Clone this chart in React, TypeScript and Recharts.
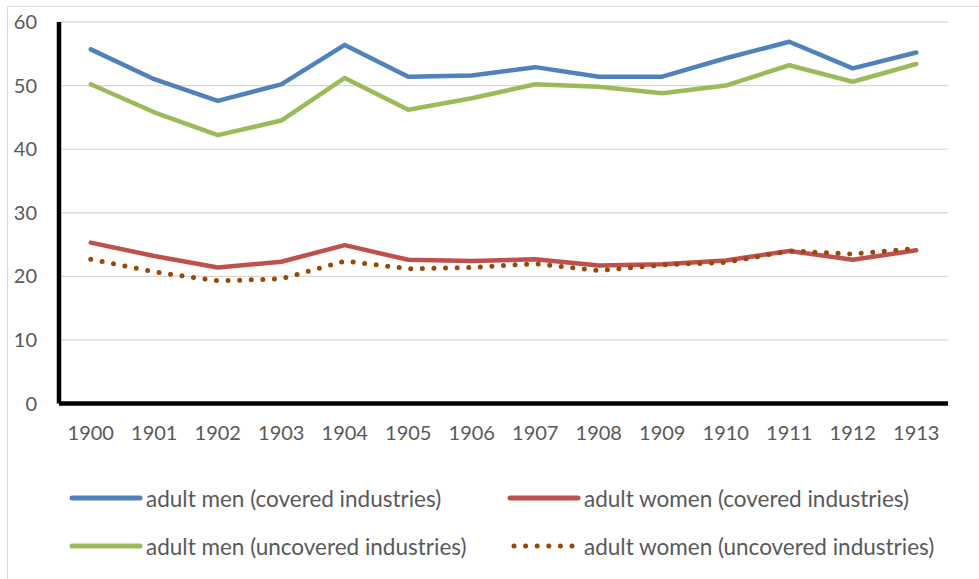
import { LineChart, Line, XAxis, YAxis, CartesianGrid, Legend } from 'recharts'

const years = ['1900', '1901', '1902', '1903', '1904', '1905', '1906', '1907', '1908', '1909', '1910', '1911', '1912', '1913']
const menCovered = [55.7, 51.0, 47.6, 50.2, 56.4, 51.4, 51.6, 52.9, 51.4, 51.4, 54.3, 56.9, 52.7, 55.2]
const womenCovered = [25.3, 23.2, 21.4, 22.3, 24.9, 22.6, 22.4, 22.7, 21.7, 21.9, 22.5, 24.0, 22.6, 24.1]
const menUncovered = [50.2, 45.8, 42.2, 44.5, 51.2, 46.2, 48.0, 50.2, 49.8, 48.8, 50.0, 53.2, 50.6, 53.4]
const womenUncovered = [22.7, 20.7, 19.3, 19.6, 22.4, 21.2, 21.4, 22.0, 20.9, 21.8, 22.2, 24.0, 23.5, 24.4]
const yTicks = [0, 10, 20, 30, 40, 50, 60]

const data = years.map((year, i) => ({
  year,
  menCovered: menCovered[i],
  womenCovered: womenCovered[i],
  menUncovered: menUncovered[i],
  womenUncovered: womenUncovered[i],
}))

const series = [
  { key: 'menCovered', name: 'adult men (covered industries)', color: '#4F81BD', dotted: false },
  { key: 'womenCovered', name: 'adult women (covered industries)', color: '#C0504D', dotted: false },
  { key: 'menUncovered', name: 'adult men (uncovered industries)', color: '#9BBB59', dotted: false },
  { key: 'womenUncovered', name: 'adult women (uncovered industries)', color: '#984807', dotted: true },
]

const font = 'Lato, "Open Sans", sans-serif'

function LegendBox() {
  // 2x2 grid like the Excel legend
  const cols = [61, 499]
  const rows = [491 - 470, 539 - 470]
  return (
    <div style={{ position: 'relative', width: 1000, height: 90, fontFamily: font }}>
      {series.map((s, i) => {
        const x = cols[i % 2]
        const y = rows[Math.floor(i / 2)]
        return (
          <div key={s.key} style={{ position: 'absolute', left: x, top: y - 14, height: 28, display: 'flex', alignItems: 'center' }}>
            <svg width={74} height={28}>
              <line
                x1={s.dotted ? 7 : 3}
                y1={14}
                x2={s.dotted ? 70 : 71}
                y2={14}
                stroke={s.color}
                strokeWidth={5}
                strokeLinecap="round"
                strokeDasharray={s.dotted ? '0 11.6' : undefined}
              />
            </svg>
            <span style={{ marginLeft: 3, fontSize: 22.5, color: '#595959', whiteSpace: 'nowrap' }}>{s.name}</span>
          </div>
        )
      })}
    </div>
  )
}

export default function App() {
  return (
    <div style={{ position: 'fixed', inset: 0, overflow: 'hidden', background: '#fff' }}>
      <div style={{ position: 'absolute', left: 7, top: 6, width: 1000, height: 600, border: '1px solid #D9D9D9' }}>
        <LineChart width={1000} height={600} data={data} margin={{ top: 15, right: 60, left: 0, bottom: 163.5 }}>
          <CartesianGrid vertical={false} stroke="#D9D9D9" strokeWidth={1.3} />
          <XAxis
            dataKey="year"
            height={40}
            padding={{ left: 31.75, right: 31.75 }}
            axisLine={{ stroke: '#000', strokeWidth: 4.5 }}
            tickLine={false}
            tickSize={0}
            tickMargin={22}
            tick={{ fill: '#595959', fontSize: 20, fontFamily: font }}
          />
          <YAxis
            width={51}
            domain={[0, 60]}
            ticks={yTicks}
            axisLine={{ stroke: '#000', strokeWidth: 4.5 }}
            tickLine={false}
            tickSize={0}
            tickMargin={22}
            tick={{ fill: '#595959', fontSize: 20, fontFamily: font }}
          />
          {series.map((s) => (
            <Line
              key={s.key}
              type="linear"
              dataKey={s.key}
              name={s.name}
              stroke={s.color}
              strokeWidth={s.dotted ? 5 : 4.5}
              strokeDasharray={s.dotted ? '0 11.6' : undefined}
              strokeLinecap="round"
              strokeLinejoin="round"
              dot={false}
              activeDot={false}
              isAnimationActive={false}
            />
          ))}
          <Legend
            layout="horizontal"
            verticalAlign="middle"
            align="center"
            wrapperStyle={{ top: 470, left: 0, width: 1000, height: 90 }}
            content={() => <LegendBox />}
          />
        </LineChart>
      </div>
    </div>
  )
}
